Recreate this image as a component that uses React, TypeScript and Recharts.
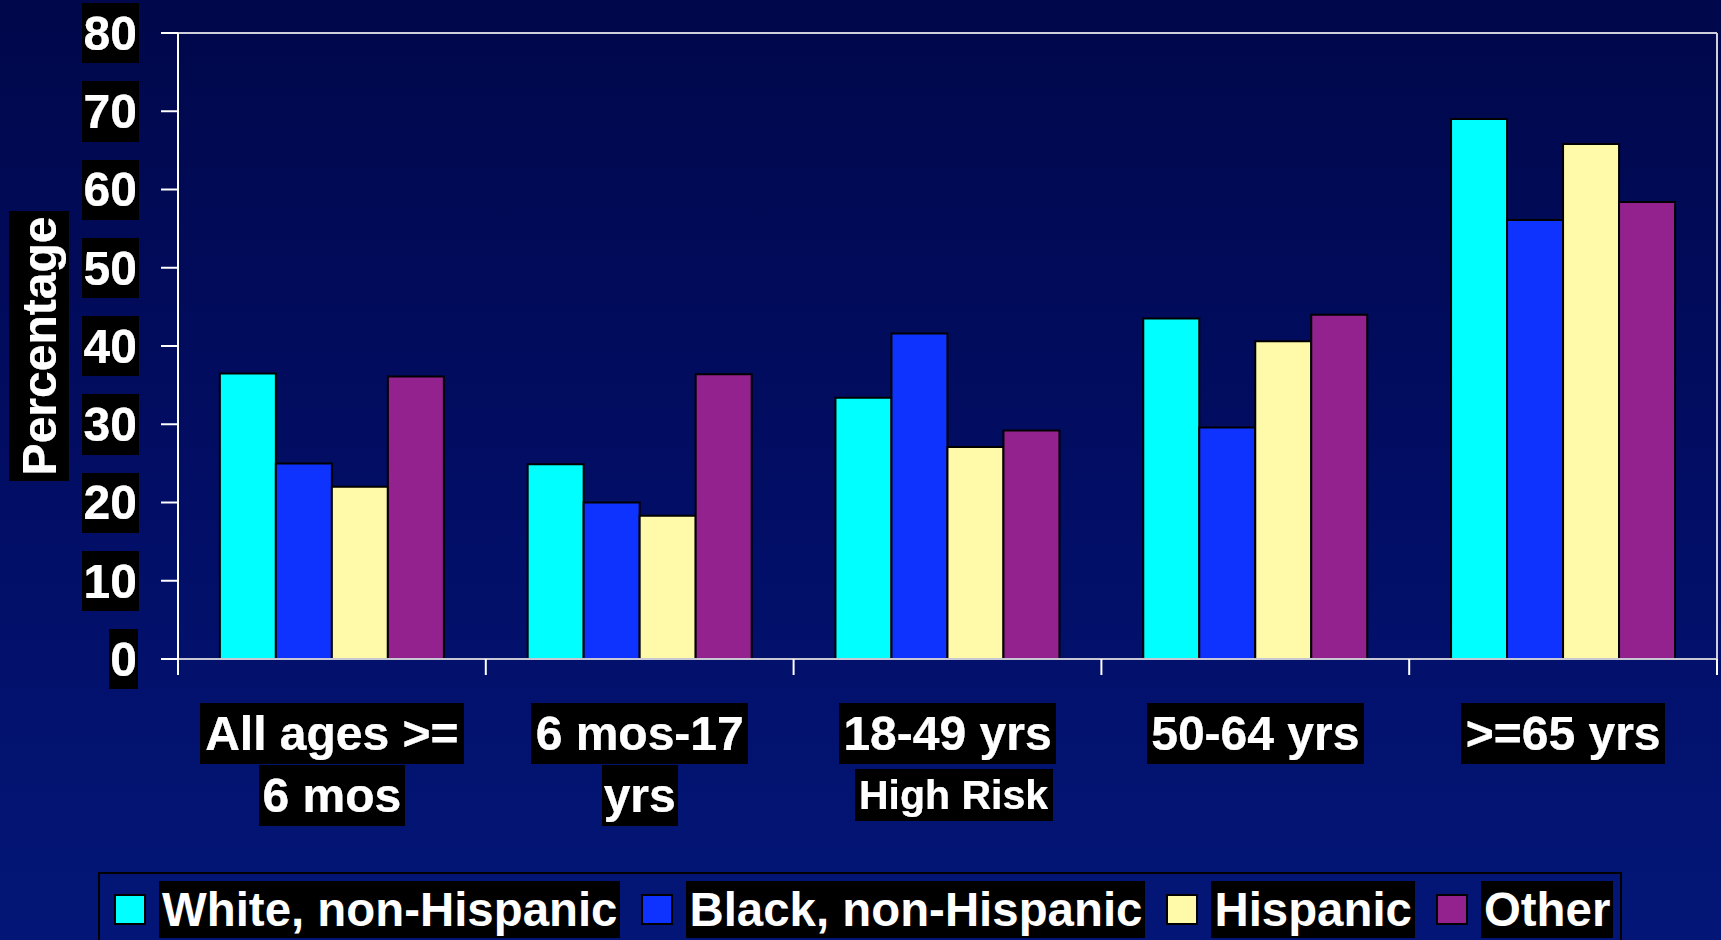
import React from 'react';
import { BarChart, Bar, XAxis, YAxis, ReferenceLine, Legend } from 'recharts';

// Age groups (two-line axis labels) and series values, in percent
const categories = ['All ages >= 6 mos', '6 mos-17 yrs', '18-49 yrs High Risk', '50-64 yrs', '>=65 yrs'];
const labelLine1 = ['All ages >=', '6 mos-17', '18-49 yrs', '50-64 yrs', '>=65 yrs'];
const labelLine2 = ['6 mos', 'yrs', 'High Risk', '', ''];
const labelLine2Small = [false, false, true, false, false];

const whiteNonHispanic = [36.5, 24.9, 33.4, 43.5, 69.0];
const blackNonHispanic = [25.0, 20.0, 41.6, 29.6, 56.1];
const hispanic = [22.0, 18.3, 27.1, 40.6, 65.8];
const other = [36.1, 36.4, 29.2, 44.0, 58.4];

const seriesKeys = ['white', 'black', 'hispanic', 'other'];
const seriesNames = ['White, non-Hispanic', 'Black, non-Hispanic', 'Hispanic', 'Other'];
const seriesColors = ['#00FFFF', '#0F33FF', '#FFFAAA', '#93228E'];

const yTicks = [0, 10, 20, 30, 40, 50, 60, 70, 80];

const data = categories.map((category, i) => ({
  category,
  white: whiteNonHispanic[i],
  black: blackNonHispanic[i],
  hispanic: hispanic[i],
  other: other[i],
}));

const FONT = "'Liberation Sans', Arial, Helvetica, sans-serif";

const labelText = {
  fill: '#ffffff',
  fontFamily: FONT,
  fontWeight: 700,
  filter: 'url(#labelBg)',
} as const;

const ValueTick = (props: any) => {
  const { x, y, payload } = props;
  return (
    <text x={x} y={y} dy="0.35em" textAnchor="end" fontSize={48} style={labelText}>
      {payload.value}
    </text>
  );
};

const CategoryTick = (props: any) => {
  const { x, y, payload, index } = props;
  const i = payload?.index ?? index;
  const half = payload?.offset ?? 0;
  const last = i === categories.length - 1;
  const small = labelLine2Small[i];
  return (
    <g>
      <line x1={x - half} x2={x - half} y1={y} y2={y + 16} stroke="#ffffff" strokeWidth={2} />
      {last && <line x1={x + half} x2={x + half} y1={y} y2={y + 16} stroke="#ffffff" strokeWidth={2} />}
      <text x={x} y={y + 91} textAnchor="middle" fontSize={48} style={labelText}>
        {labelLine1[i]}
      </text>
      {labelLine2[i] && (
        <text
          x={x}
          y={y + (small ? 150 : 153)}
          dx={small ? 6 : 0}
          textAnchor="middle"
          fontSize={small ? 41 : 48}
          style={labelText}
        >
          {labelLine2[i]}
        </text>
      )}
    </g>
  );
};

const PercentLabel = (props: any) => {
  const vb = props.viewBox || { x: 0, y: 0, width: 0, height: 0 };
  const cx = vb.x + 39;
  const cy = vb.y + vb.height / 2;
  return (
    <text
      x={cx}
      y={cy}
      dy="0.35em"
      textAnchor="middle"
      fontSize={48}
      transform={`rotate(-90, ${cx}, ${cy})`}
      style={labelText}
    >
      Percentage
    </text>
  );
};

const LegendContent = () => (
  <div style={{ display: 'flex', alignItems: 'center', height: 57, marginTop: 7, paddingLeft: 14 }}>
    {seriesNames.map((name, i) => (
      <div key={name} style={{ display: 'flex', alignItems: 'center', marginRight: 21 }}>
        <div
          style={{
            width: 28,
            height: 27,
            background: seriesColors[i],
            border: '2px solid #000',
            marginRight: 13,
          }}
        />
        <span
          style={{
            background: '#000',
            color: '#fff',
            fontFamily: FONT,
            fontWeight: 700,
            fontSize: 47.4,
            lineHeight: '57px',
            padding: '0 3px',
            whiteSpace: 'nowrap',
          }}
        >
          {name}
        </span>
      </div>
    ))}
  </div>
);

export default function App() {
  return (
    <div
      style={{
        position: 'fixed',
        left: 0,
        top: 0,
        width: 1721,
        height: 940,
        overflow: 'hidden',
        background: 'linear-gradient(to bottom, #00074A 0%, #020E66 55%, #031677 100%)',
      }}
    >
      <svg width={0} height={0} style={{ position: 'absolute' }}>
        <defs>
          <filter id="labelBg" x="-0.02" y="-0.06" width="1.04" height="1.12">
            <feFlood floodColor="#000000" />
            <feMerge>
              <feMergeNode />
              <feMergeNode in="SourceGraphic" />
            </feMerge>
          </filter>
        </defs>
      </svg>
      <BarChart
        width={1721}
        height={940}
        data={data}
        margin={{ top: 33, right: 0, left: 0, bottom: 121 }}
        barCategoryGap="13.6%"
        barGap={0}
      >
        <XAxis
          dataKey="category"
          interval={0}
          height={160}
          tickLine={false}
          tickSize={0}
          tickMargin={0}
          tick={<CategoryTick />}
          axisLine={{ stroke: '#c8c8d4', strokeWidth: 2 }}
        />
        <YAxis
          domain={[0, 80]}
          ticks={yTicks}
          interval={0}
          width={178}
          tickSize={17}
          tickMargin={24}
          tick={<ValueTick />}
          tickLine={{ stroke: '#ffffff', strokeWidth: 2 }}
          axisLine={{ stroke: '#ffffff', strokeWidth: 2 }}
          label={(p: any) => <PercentLabel {...p} />}
        />
        <YAxis
          yAxisId="frame"
          orientation="right"
          domain={[0, 80]}
          width={4}
          tick={false}
          tickLine={false}
          axisLine={{ stroke: '#d0d0dc', strokeWidth: 2 }}
        />
        <ReferenceLine y={80} stroke="#d0d0dc" strokeWidth={2} ifOverflow="visible" />
        {seriesKeys.map((key, i) => (
          <Bar
            key={key}
            dataKey={key}
            name={seriesNames[i]}
            fill={seriesColors[i]}
            stroke="#000000"
            strokeWidth={2}
            isAnimationActive={false}
          />
        ))}
        <Legend
          layout="horizontal"
          verticalAlign="middle"
          align="center"
          content={<LegendContent />}
          wrapperStyle={{
            left: 98,
            top: 872,
            width: 1524,
            height: 80,
            border: '2px solid #000',
            boxSizing: 'border-box',
          }}
        />
      </BarChart>
    </div>
  );
}
